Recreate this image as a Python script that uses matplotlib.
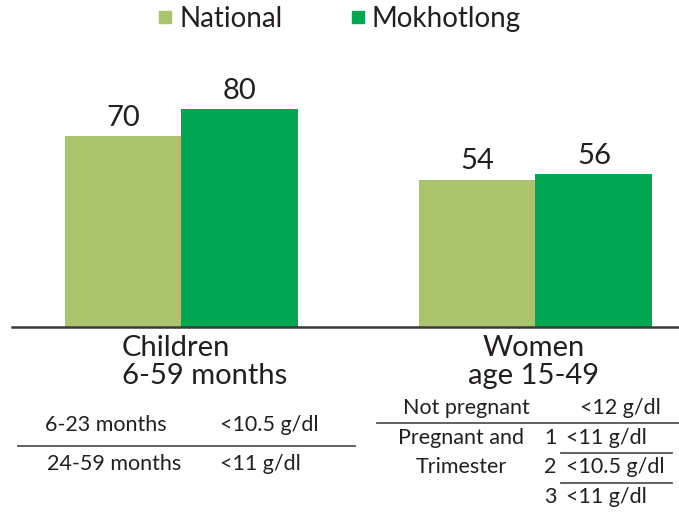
import matplotlib
matplotlib.use("Agg")
import matplotlib.pyplot as plt
from matplotlib.lines import Line2D

plt.rcParams['font.family'] = ['Lato', 'DejaVu Sans']

groups = ["Children\n6-59 months", "Women\nage 15-49"]
series = ["National", "Mokhotlong"]
national = [70, 54]
mokhotlong = [80, 56]
colors = ["#A9C46C", "#00A651"]

W, H = 679, 512
fig = plt.figure(figsize=(W / 100, H / 100), dpi=100)

def fx(x):
    return x / W

def fy(y):
    return 1 - y / H

ax = fig.add_axes([fx(12), fy(327), (W - 12) / W, 272.5 / H])
x = [0, 1]
bw = 0.33
b1 = ax.bar([i - bw / 2 for i in x], national, width=bw, color=colors[0], label=series[0])
b2 = ax.bar([i + bw / 2 for i in x], mokhotlong, width=bw, color=colors[1], label=series[1])
for bars in (b1, b2):
    for r in bars:
        ax.text(r.get_x() + r.get_width() / 2, r.get_height() + 2.0, f"{int(r.get_height())}",
                ha="center", va="bottom", fontsize=21, color="#231F20")
ax.set_ylim(0, 100)
ax.set_xlim(-0.4788, 1.4054)
for s in ["top", "right", "left"]:
    ax.spines[s].set_visible(False)
ax.spines["bottom"].set_color("#3a3a3a")
ax.spines["bottom"].set_linewidth(1.8)
ax.set_yticks([])
ax.set_xticks([])

# group labels
fig.text(fx(122), fy(335), groups[0], ha="left", va="top", fontsize=21, color="#231F20", linespacing=1.1)
fig.text(fx(534), fy(335), groups[1], ha="center", va="top", fontsize=21, color="#231F20", linespacing=1.1)

# legend
handles = [Line2D([], [], marker="s", linestyle="none", markersize=9, color=c) for c in colors]
fig.legend(handles, series, loc="center", bbox_to_anchor=(fx(336), fy(19)), ncol=2, frameon=False,
           fontsize=20, handletextpad=0.0, columnspacing=2.2, handlelength=1.0, labelcolor="#231F20")

tc = "#231F20"
fs = 15.5
# children table
fig.text(fx(45), fy(425), "6-23 months", ha="left", va="center", fontsize=fs, color=tc)
fig.text(fx(220), fy(425), "<10.5 g/dl", ha="left", va="center", fontsize=fs, color=tc)
fig.text(fx(47), fy(464), "24-59 months", ha="left", va="center", fontsize=fs, color=tc)
fig.text(fx(220), fy(464), "<11 g/dl", ha="left", va="center", fontsize=fs, color=tc)
fig.add_artist(Line2D([fx(18), fx(355)], [fy(446), fy(446)], transform=fig.transFigure, color="#555555", lw=1.3))

# women table
fig.text(fx(466), fy(408), "Not pregnant", ha="center", va="center", fontsize=fs, color=tc)
fig.text(fx(580), fy(408), "<12 g/dl", ha="left", va="center", fontsize=fs, color=tc)
fig.add_artist(Line2D([fx(377), fx(679)], [fy(423), fy(423)], transform=fig.transFigure, color="#555555", lw=1.3))
fig.text(fx(461), fy(438), "Pregnant and", ha="center", va="center", fontsize=fs, color=tc)
fig.text(fx(461), fy(467), "Trimester", ha="center", va="center", fontsize=fs, color=tc)
for yy, n, v in [(438, "1", "<11 g/dl"), (467, "2", "<10.5 g/dl"), (497, "3", "<11 g/dl")]:
    fig.text(fx(550), fy(yy), n, ha="center", va="center", fontsize=fs, color=tc)
    fig.text(fx(566), fy(yy), v, ha="left", va="center", fontsize=fs, color=tc)
for yy in (453, 483):
    fig.add_artist(Line2D([fx(561), fx(672)], [fy(yy), fy(yy)], transform=fig.transFigure, color="#555555", lw=1.3))

fig.savefig("out.png", dpi=100)
